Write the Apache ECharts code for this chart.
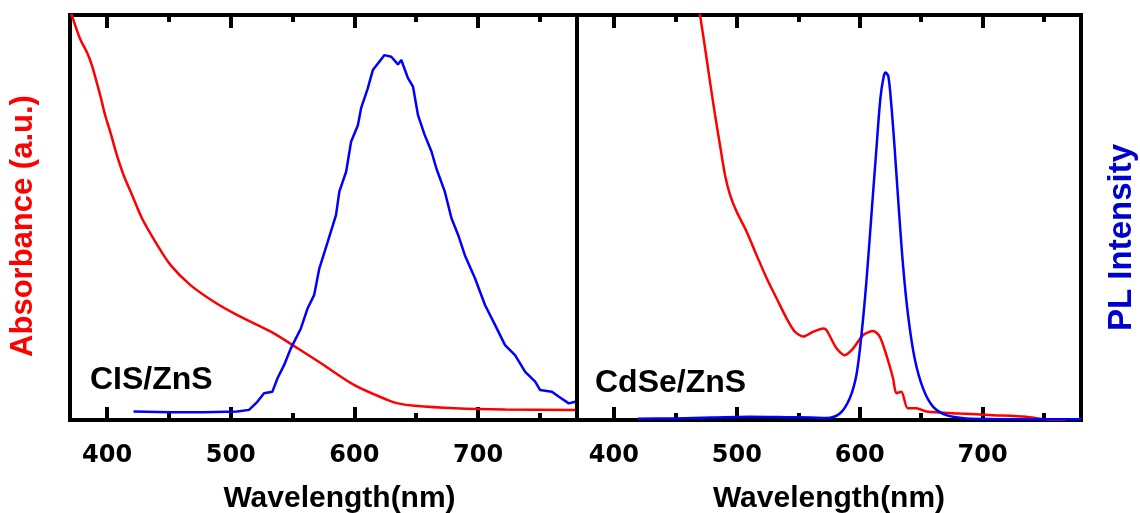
<!DOCTYPE html>
<html><head><meta charset="utf-8">
<script src="https://cdn.jsdelivr.net/npm/echarts@6/dist/echarts.min.js"></script>
<style>html,body{margin:0;padding:0;background:#fff}#c{width:1140px;height:513px}</style>
</head><body><div id="c"></div>
<script>
// ---- axis ticks ----
const majorTicks = [400, 500, 600, 700];
const minorTicks = [450, 550, 650, 750];
const xMin = 370, xMax = 780;

// ---- CIS/ZnS absorbance (a.u., 0-100 of panel height) ----
const cisAbsWl = [370, 371.4, 378, 383.5, 387.6, 394.4, 398.4, 402.5, 407.9, 413.3, 420.1, 428.2, 439, 451.2, 467.4, 486.4, 505.3, 532.4, 554.1, 573, 600, 627.1, 635.2, 648.7, 681.2, 721.8, 778.6];
const cisAbs   = [101.5, 100, 94.2, 90.9, 87.7, 80.2, 75.3, 71.2, 65.4, 60.5, 55.6, 49.8, 44, 38.3, 33.3, 29.2, 25.9, 21.8, 17.7, 14, 8.6, 4.9, 4.1, 3.5, 2.9, 2.6, 2.5];

// ---- CIS/ZnS PL ----
const cisPlWl = [421.4, 451.2, 478.2, 505.3, 514.8, 521.5, 526.9, 533.7, 537.8, 543.2, 548.6, 556.7, 562.2, 567.5, 571.6, 578.4, 585.1, 587.8, 593.3, 597.3, 602.8, 605.4, 610.8, 614.9, 620.3, 624.3, 629.8, 635.2, 637.9, 643.3, 647.4, 651.4, 656.8, 662.3, 666.3, 673.1, 678.5, 683.9, 689.3, 697.5, 705.6, 713.7, 721.8, 729.9, 738.1, 746.2, 750.2, 759.7, 765.1, 773.3, 778.6];
const cisPl   = [2.1, 1.9, 1.9, 2.1, 2.5, 4.5, 6.6, 7.0, 10.3, 13.6, 17.7, 22.6, 27.6, 30.9, 37.4, 44, 50.6, 56.4, 61.3, 68.7, 72.8, 77, 81.9, 86.4, 88.5, 90.1, 89.7, 87.8, 88.9, 84.4, 82.3, 75.3, 70.4, 66.3, 62.1, 56.4, 49.8, 45.7, 40.7, 35, 28.4, 23.5, 18.5, 16, 11.9, 9.5, 7.4, 7, 5.8, 4.1, 4.5];

// ---- CdSe/ZnS absorbance ----
const cdAbsWl = [466, 470.1, 474.2, 478.2, 482.3, 486.3, 490.4, 494.5, 499.9, 508, 516.1, 524.3, 532.4, 540.5, 547.2, 554.1, 562.2, 570.3, 573, 581.1, 587.8, 594.7, 602.8, 610.9, 616.3, 621.7, 627.1, 629.8, 633.9, 639, 646.1, 654.2, 681.2, 708.3, 735.3, 748.9, 762.4, 768];
const cdAbs   = [108, 100, 91.8, 83.5, 75.3, 67.9, 60.5, 55.6, 51.4, 46.5, 40.7, 35, 30, 25.1, 21.8, 20.6, 21.8, 22.6, 22.2, 17.7, 16, 17.7, 21, 22, 20.6, 16, 10.3, 6.6, 7, 2.9, 2.9, 2.1, 1.6, 1.2, 0.8, 0.25, 0, 0];

// ---- CdSe/ZnS PL ----
const cdPlWl = [419.5, 450, 480, 510, 540, 560, 573, 583.8, 591.9, 597.3, 601.4, 605.4, 609.5, 613.6, 616.8, 619.5, 621.1, 623.3, 625.7, 628.4, 631.2, 635.2, 639.3, 644.7, 651.5, 659.6, 670.4, 686.6, 708.3, 740, 780];
const cdPl   = [0.3, 0.4, 0.6, 0.8, 0.7, 0.6, 0.5, 1.6, 5.4, 11.1, 21, 34.1, 50.6, 67.1, 79.4, 84.8, 85.8, 84.8, 77.8, 67.1, 54.7, 38.3, 25.9, 15.2, 7.8, 3.3, 1.2, 0.4, 0.25, 0.2, 0.2];

// ---- texts ----
const panelLabels = ['CIS/ZnS', 'CdSe/ZnS'];
const xTitle = 'Wavelength(nm)';
const yLeftTitle = 'Absorbance (a.u.)';
const yRightTitle = 'PL Intensity';

const zip = (a, b) => a.map((v, i) => [v, b[i]]);
const RED = '#ff0000', BLUE = '#0000ff';
const LW = 4;

function xAx(grid, pos, ticks, len, labels, line) {
  return {
    type: 'value', gridIndex: grid, position: pos, min: xMin, max: xMax,
    axisLine: { show: line, onZero: false, lineStyle: { color: '#000', width: LW, cap: 'square' } },
    axisTick: { show: true, inside: true, length: len, customValues: ticks, lineStyle: { color: '#000', width: 4 } },
    axisLabel: { show: labels, customValues: ticks, margin: 24, color: '#000', fontFamily: 'DejaVu Sans', fontWeight: 'bold', fontSize: 24 },
    splitLine: { show: false }
  };
}
function yAx(grid, pos, line) {
  return {
    type: 'value', gridIndex: grid, position: pos, min: 0, max: 100,
    axisLine: { show: line, onZero: false, lineStyle: { color: '#000', width: LW, cap: 'square' } },
    axisTick: { show: false }, axisLabel: { show: false }, splitLine: { show: false }
  };
}
const titleFont = { fontFamily: 'Liberation Sans', fontWeight: 'bold' };

const chart = echarts.init(document.getElementById('c'), null, { renderer: 'canvas' });
chart.setOption({
  backgroundColor: '#fff',
  animation: false,
  grid: [
    { left: 70, top: 15, width: 507, height: 405, outerBoundsMode: 'none' },
    { left: 577, top: 15, width: 504, height: 405, outerBoundsMode: 'none' }
  ],
  xAxis: [
    xAx(0, 'bottom', majorTicks, 13, true, true),
    xAx(0, 'bottom', minorTicks, 7, false, false),
    xAx(0, 'top', majorTicks, 13, false, true),
    xAx(0, 'top', minorTicks, 7, false, false),
    xAx(1, 'bottom', majorTicks, 13, true, true),
    xAx(1, 'bottom', minorTicks, 7, false, false),
    xAx(1, 'top', majorTicks, 13, false, true),
    xAx(1, 'top', minorTicks, 7, false, false)
  ],
  yAxis: [
    yAx(0, 'left', true),
    yAx(0, 'right', true),
    yAx(1, 'left', false),
    yAx(1, 'right', true)
  ],
  series: [
    { type: 'line', xAxisIndex: 0, yAxisIndex: 0, data: zip(cisAbsWl, cisAbs), showSymbol: false, smooth: 0.3, lineStyle: { color: RED, width: 2.5 }, z: 3 },
    { type: 'line', xAxisIndex: 0, yAxisIndex: 1, data: zip(cisPlWl, cisPl), showSymbol: false, lineStyle: { color: BLUE, width: 2.5 }, z: 4 },
    { type: 'line', xAxisIndex: 4, yAxisIndex: 2, data: zip(cdAbsWl, cdAbs), showSymbol: false, smooth: 0.25, lineStyle: { color: RED, width: 2.5 }, z: 3 },
    { type: 'line', xAxisIndex: 4, yAxisIndex: 3, data: zip(cdPlWl, cdPl), showSymbol: false, smooth: 0.3, lineStyle: { color: BLUE, width: 2.5 }, z: 4 }
  ],
  graphic: [
    { type: 'text', x: 23, y: 226, rotation: Math.PI / 2, style: Object.assign({ text: yLeftTitle, fill: RED, fontSize: 31, align: 'center', verticalAlign: 'middle' }, titleFont) },
    { type: 'text', x: 1122, y: 237.5, rotation: Math.PI / 2, style: Object.assign({ text: yRightTitle, fill: '#0000cc', fontSize: 33, align: 'center', verticalAlign: 'middle' }, titleFont) },
    { type: 'text', x: 339.5, y: 499, style: Object.assign({ text: xTitle, fill: '#000', fontSize: 30, align: 'center', verticalAlign: 'middle' }, titleFont) },
    { type: 'text', x: 829, y: 499, style: Object.assign({ text: xTitle, fill: '#000', fontSize: 30, align: 'center', verticalAlign: 'middle' }, titleFont) },
    { type: 'text', x: 90, y: 380, style: Object.assign({ text: panelLabels[0], fill: '#000', fontSize: 32, align: 'left', verticalAlign: 'middle' }, titleFont) },
    { type: 'text', x: 595, y: 383, style: Object.assign({ text: panelLabels[1], fill: '#000', fontSize: 32, align: 'left', verticalAlign: 'middle' }, titleFont) }
  ]
});
</script>
</body></html>
